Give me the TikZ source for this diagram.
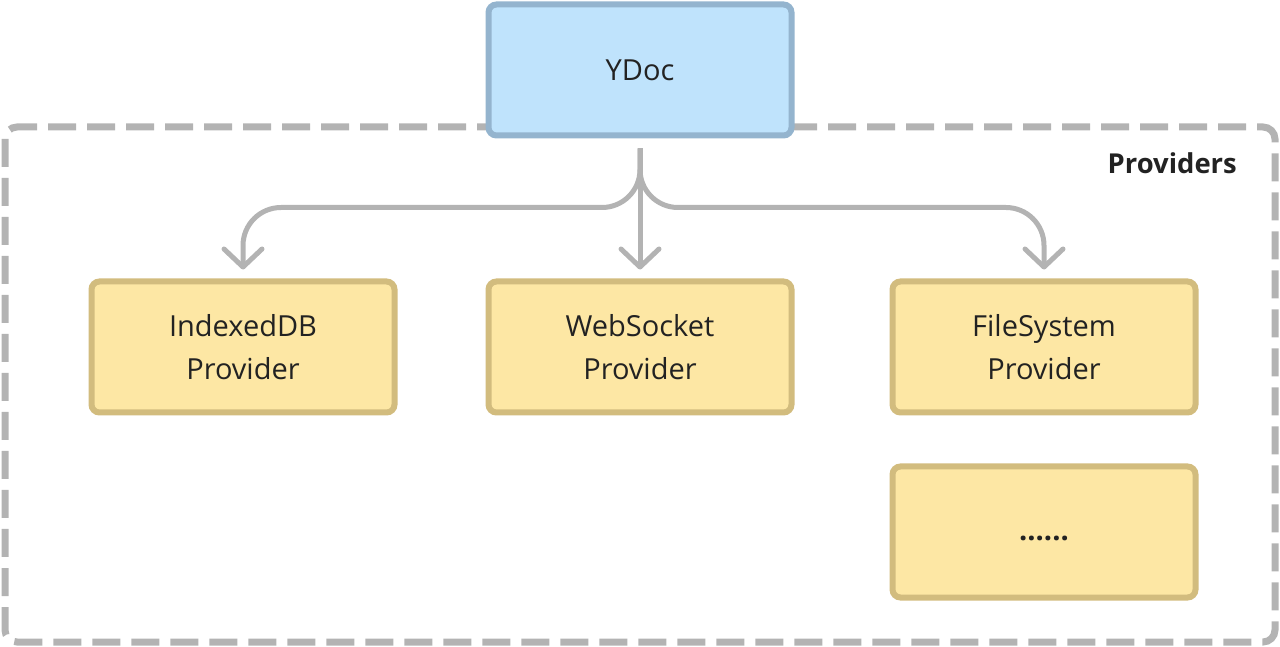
\documentclass[tikz,border=0pt]{standalone}
\usepackage{fontspec}
\setmainfont{Open Sans}
\usetikzlibrary{positioning,arrows.meta}
\definecolor{doc}{HTML}{BFE3FC}
\definecolor{docline}{HTML}{94B4CE}
\definecolor{prov}{HTML}{FDE7A4}
\definecolor{provline}{HTML}{D2BC7E}
\definecolor{linkgray}{HTML}{B3B3B3}
\definecolor{inkdark}{HTML}{222222}

\begin{document}
\begin{tikzpicture}[outline/.style={draw=#1line,fill=#1,line width=0.12cm,rounded corners=0.16cm,
minimum width=6.06cm,minimum height=2.62cm,align=center,text=inkdark,
font=\fontsize{16.5pt}{24.4pt}\selectfont},
link/.style={draw=linkgray,line width=0.1cm,rounded corners=0.76cm,shorten <=0.2cm,shorten >=0.18cm,
-{Straight Barb[length=0.36cm,width=0.76cm,round]}}]
\useasboundingbox (0,0) rectangle (25.6,-12.94);

\draw [linkgray,line width=0.14cm,rounded corners=0.24cm,dash pattern=on 0.56cm off 0.22cm] (0.1,-2.54) rectangle (25.5,-12.84);
\node [font=\fontsize{15.6pt}{18pt}\selectfont\bfseries,text=inkdark,anchor=east] (provlabel) at (24.86,-3.26) {Providers};

\node [outline=doc] (ydoc) at (12.8,-1.4) {YDoc};
\node [outline=prov] (web) [below=2.8cm of ydoc] {WebSocket\\Provider};
\node [outline=prov] (indexed) [left=1.76cm of web] {IndexedDB\\Provider};
\node [outline=prov] (files) [right=1.9cm of web] {FileSystem\\Provider};
\node [outline=prov] (more) [below=0.96cm of files] {\strut\textbf{......}};

\draw [link] (ydoc.south) |- ([yshift=1.42cm]indexed.north) -- (indexed.north);
\draw [link] (ydoc.south) -- (web.north);
\draw [link] (ydoc.south) |- ([yshift=1.42cm]files.north) -- (files.north);
\end{tikzpicture}
\end{document}
